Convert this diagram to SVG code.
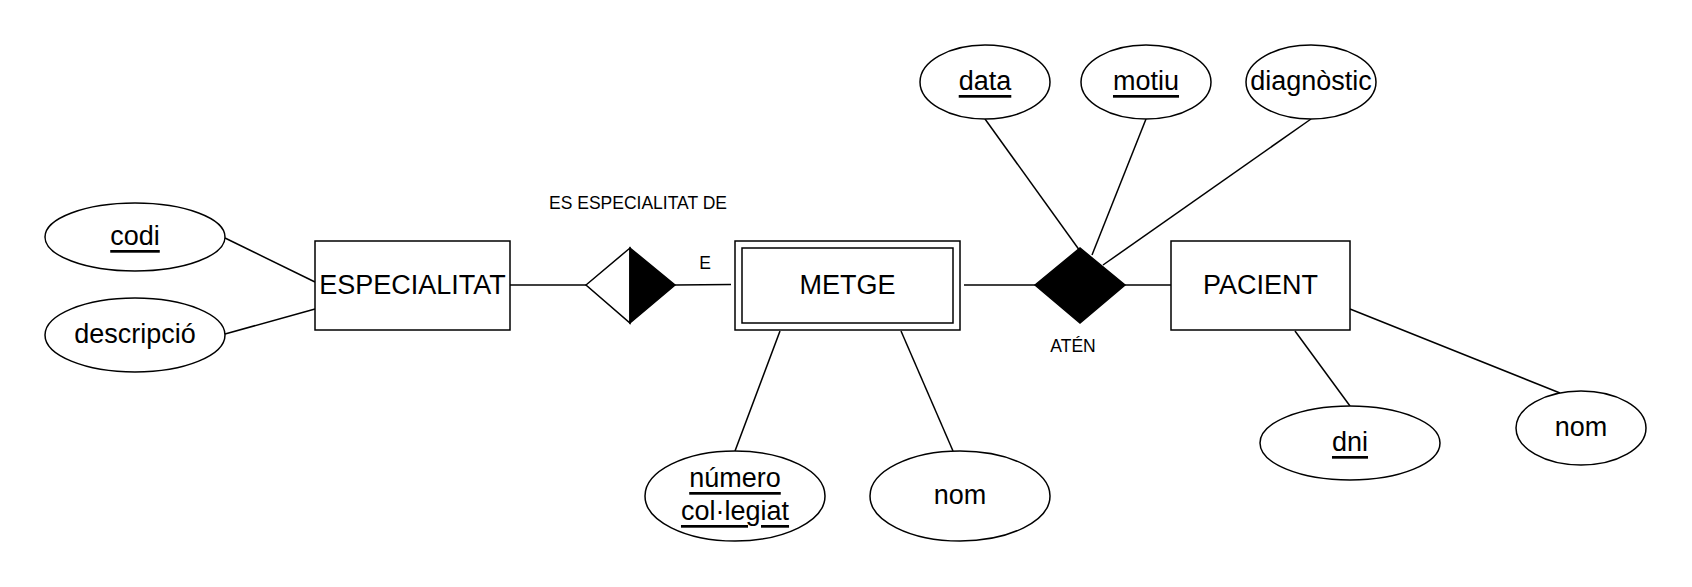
<svg xmlns="http://www.w3.org/2000/svg" width="1692" height="587" viewBox="0 0 1692 587">
<style>
.s{fill:#fff;stroke:#000;stroke-width:1.5}
.b{fill:#000;stroke:#000;stroke-width:1.5}
.t{font-family:"Liberation Sans",Arial,sans-serif;font-size:27px;text-anchor:middle;dominant-baseline:central;fill:#000}
.u{text-decoration:underline}
.l{font-family:"Liberation Sans",Arial,sans-serif;font-size:17.5px;text-anchor:middle;dominant-baseline:central;fill:#000}
#edges line{stroke:#000;stroke-width:1.5}
</style>
<rect width="1692" height="587" fill="#fff"/>
<g id="edges">
<line x1="225" y1="238" x2="315" y2="282"/>
<line x1="225" y1="334" x2="315" y2="309"/>
<line x1="510" y1="285" x2="586" y2="285"/>
<line x1="675" y1="285" x2="731" y2="284.5"/>
<line x1="964" y1="285" x2="1035" y2="285"/>
<line x1="1125" y1="285" x2="1171" y2="285"/>
<line x1="985" y1="119" x2="1080" y2="251"/>
<line x1="1146" y1="119" x2="1092" y2="255"/>
<line x1="1311" y1="119" x2="1103" y2="265"/>
<line x1="780" y1="331" x2="735" y2="451"/>
<line x1="901" y1="331" x2="953" y2="451"/>
<line x1="1295" y1="331" x2="1350" y2="406"/>
<line x1="1350" y1="309" x2="1560" y2="393"/>
</g>
<g id="codi"><ellipse class="s" cx="135" cy="237" rx="90" ry="34"/><text class="t u" x="135" y="236">codi</text></g>
<g id="descripcio"><ellipse class="s" cx="135" cy="335" rx="90" ry="37"/><text class="t" x="135" y="334">descripció</text></g>
<g id="especialitat"><rect class="s" x="315" y="241" width="195" height="89"/><text class="t" x="412.5" y="285">ESPECIALITAT</text></g>
<g id="es-especialitat-de"><polygon class="s" points="586,285 630,248 630,323"/><polygon class="b" points="630,248 675,285 630,323"/><text class="l" x="638" y="203">ES ESPECIALITAT DE</text><text class="l" x="705" y="263">E</text></g>
<g id="metge"><rect class="s" x="735" y="241" width="225" height="89"/><rect class="s" x="742" y="248" width="211" height="75"/><text class="t" x="847.5" y="285">METGE</text></g>
<g id="aten"><polygon class="b" points="1035,285 1080,248 1125,285 1080,323"/><text class="l" x="1073" y="346">ATÉN</text></g>
<g id="pacient"><rect class="s" x="1171" y="241" width="179" height="89"/><text class="t" x="1260.5" y="285">PACIENT</text></g>
<g id="data"><ellipse class="s" cx="985" cy="82" rx="65" ry="37"/><text class="t u" x="985" y="81">data</text></g>
<g id="motiu"><ellipse class="s" cx="1146" cy="82" rx="65" ry="37"/><text class="t u" x="1146" y="81">motiu</text></g>
<g id="diagnostic"><ellipse class="s" cx="1311" cy="82" rx="65" ry="37"/><text class="t" x="1311" y="81">diagnòstic</text></g>
<g id="numero"><ellipse class="s" cx="735" cy="496" rx="90" ry="45"/><text class="t u" x="735" y="478">número</text><text class="t u" x="735" y="511">col·legiat</text></g>
<g id="nom-metge"><ellipse class="s" cx="960" cy="496" rx="90" ry="45"/><text class="t" x="960" y="495">nom</text></g>
<g id="dni"><ellipse class="s" cx="1350" cy="443" rx="90" ry="37"/><text class="t u" x="1350" y="442">dni</text></g>
<g id="nom-pacient"><ellipse class="s" cx="1581" cy="428" rx="65" ry="37"/><text class="t" x="1581" y="427">nom</text></g>
</svg>
